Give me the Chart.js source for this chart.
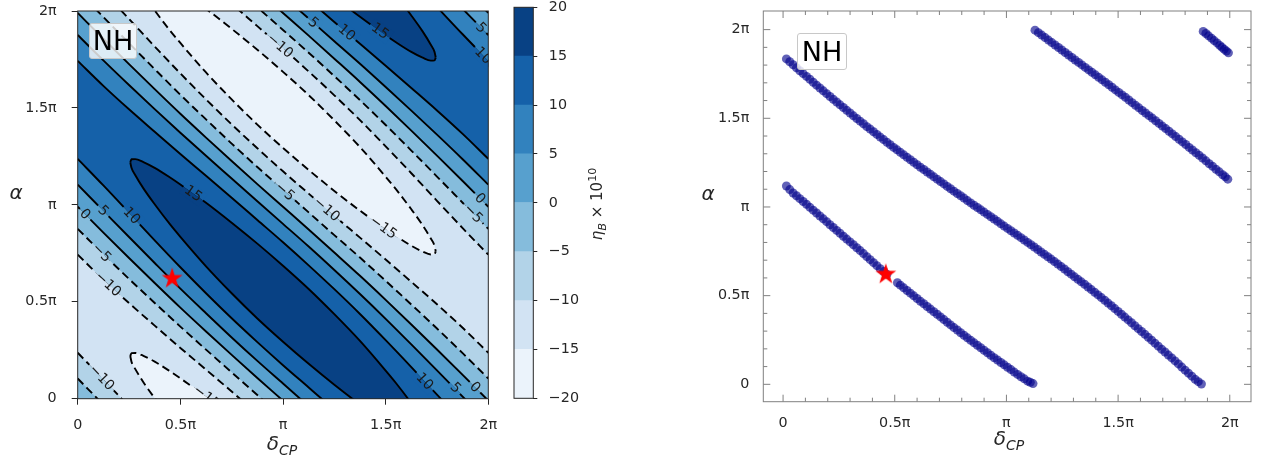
<!DOCTYPE html>
<html>
<head>
<meta charset="utf-8">
<title>eta_B NH</title>
<script src="https://cdn.jsdelivr.net/npm/chart.js@4.4.1/dist/chart.umd.min.js"></script>
<style>
  html, body { margin: 0; padding: 0; background: #fff; }
  #wrap { position: relative; width: 1262px; height: 458px; overflow: hidden; font-family: "DejaVu Sans", sans-serif; color: #262626; }
  #wrap canvas { position: absolute; top: 0; }
  .txt { position: absolute; transform: translate(-50%, -50%); white-space: nowrap; line-height: 1; }
  .axt { font-size: 20px; font-style: italic; }
  .axt sub { font-size: 14px; vertical-align: -5px; }
  .cbt { font-size: 15px; transform: translate(-50%, -50%) rotate(-90deg); }
  .cbt sub { font-size: 11px; font-style: italic; vertical-align: -4px; }
  .cbt sup { font-size: 11px; vertical-align: 6px; }
  .nh { position: absolute; box-sizing: border-box; background: rgba(255, 255, 255, 0.8); border: 1px solid #c8c8c8; border-radius: 3px; font-size: 27px; color: #000; text-align: center; }
</style>
</head>
<body>
<div id="wrap">
  <canvas id="contourChart" width="500" height="458" style="left:0"></canvas>
  <canvas id="colorbarChart" width="170" height="458" style="left:480px"></canvas>
  <canvas id="scanChart" width="612" height="458" style="left:650px"></canvas>
  <div class="txt axt" style="left:282px;top:445px">δ<sub>CP</sub></div>
  <div class="txt axt" style="left:1009px;top:440px">δ<sub>CP</sub></div>
  <div class="txt axt" style="left:16px;top:192px">α</div>
  <div class="txt axt" style="left:708px;top:193px">α</div>
  <div class="txt cbt" style="left:597px;top:204px"><i>η</i><sub>B</sub> × 10<sup>10</sup></div>
  <div class="nh" style="left:89px;top:23px;width:48px;height:36px;line-height:34px">NH</div>
  <div class="nh" style="left:797px;top:33px;width:50px;height:37px;line-height:35px">NH</div>
</div>
<script>
'use strict';

// all angles in units of pi
var piTicks = [0, 0.5, 1, 1.5, 2];
var piTickLabels = ['0', '0.5π', 'π', '1.5π', '2π'];
var minorTicks = [0.1, 0.2, 0.3, 0.4, 0.6, 0.7, 0.8, 0.9, 1.1, 1.2, 1.3, 1.4, 1.6, 1.7, 1.8, 1.9];

// eta_B x 1e10 contour levels and their fill colours (Blues)
var levels = [-20, -15, -10, -5, 0, 5, 10, 15, 20];
var bandColors = ['#ebf3fb', '#d2e3f3', '#b2d3e8', '#85bcdc', '#57a0ce', '#3282be', '#1561a9', '#084184'];

// delta_CP columns where the contour crossings were read
var dcpCols = [0, 0.125, 0.25, 0.375, 0.5, 0.625, 0.75, 0.875, 1, 1.125, 1.25, 1.375, 1.5, 1.625, 1.75, 1.875, 2];
// alpha of the lower / upper edge of {eta > level}
var lvlM10Lo = [0.743, 0.614, 0.493, 0.377, 0.262, 0.150, 0.037, -0.078, -0.193, -0.312, -0.435, -0.563, -0.698, -0.837, -0.979, -1.120, -1.257];
var lvlM10Hi = [2.237, 2.100, 1.959, 1.817, 1.678, 1.544, 1.415, 1.292, 1.173, 1.058, 0.943, 0.831, 0.718, 0.603, 0.487, 0.366, 0.237];
var lvlM5Lo = [0.876, 0.745, 0.618, 0.494, 0.372, 0.253, 0.136, 0.019, -0.098, -0.215, -0.336, -0.460, -0.588, -0.720, -0.854, -0.989, -1.124];
var lvlM5Hi = [2.104, 1.969, 1.834, 1.700, 1.568, 1.441, 1.316, 1.195, 1.078, 0.961, 0.844, 0.728, 0.608, 0.486, 0.362, 0.235, 0.104];
var lvl0Lo = [0.990, 0.857, 0.726, 0.597, 0.470, 0.347, 0.226, 0.107, -0.010, -0.127, -0.246, -0.366, -0.490, -0.617, -0.746, -0.877, -1.010];
var lvl0Hi = [1.990, 1.857, 1.726, 1.597, 1.470, 1.347, 1.226, 1.107, 0.990, 0.873, 0.754, 0.634, 0.510, 0.383, 0.254, 0.123, -0.010];
var lvl5Lo = [1.104, 0.969, 0.834, 0.700, 0.568, 0.441, 0.316, 0.195, 0.078, -0.039, -0.156, -0.272, -0.392, -0.514, -0.638, -0.765, -0.896];
var lvl5Hi = [1.876, 1.745, 1.618, 1.494, 1.372, 1.253, 1.136, 1.019, 0.902, 0.785, 0.664, 0.540, 0.412, 0.280, 0.146, 0.011, -0.124];
var lvl10Lo = [1.237, 1.100, 0.959, 0.817, 0.678, 0.544, 0.415, 0.292, 0.173, 0.058, -0.057, -0.169, -0.282, -0.397, -0.513, -0.634, -0.763];
var lvl10Hi = [1.743, 1.614, 1.493, 1.377, 1.262, 1.150, 1.037, 0.922, 0.807, 0.688, 0.565, 0.437, 0.302, 0.163, 0.021, -0.120, -0.257];

// the closed islands eta > 15 (ridge) and eta < -15 (valley)
var islandCols = [0.256, 0.262, 0.28, 0.32, 0.375, 0.45, 0.5, 0.625, 0.75, 0.875, 1, 1.125, 1.25, 1.375, 1.5, 1.55, 1.625, 1.68, 1.72, 1.738, 1.744];
var ridge15Lo = [1.220, 1.191, 1.154, 1.085, 1.003, 0.899, 0.835, 0.683, 0.544, 0.414, 0.294, 0.180, 0.072, -0.030, -0.125, -0.161, -0.211, -0.241, -0.256, -0.255, -0.240];
var ridge15Hi = [1.220, 1.235, 1.236, 1.221, 1.191, 1.141, 1.105, 1.011, 0.908, 0.800, 0.686, 0.566, 0.436, 0.298, 0.145, 0.081, -0.023, -0.105, -0.174, -0.211, -0.240];
var valley15Lo = [2.220, 2.191, 2.154, 2.085, 2.003, 1.899, 1.835, 1.683, 1.544, 1.414, 1.294, 1.180, 1.072, 0.970, 0.875, 0.839, 0.789, 0.759, 0.744, 0.745, 0.760];
var valley15Hi = [2.220, 2.235, 2.236, 2.221, 2.191, 2.141, 2.105, 2.011, 1.908, 1.800, 1.686, 1.566, 1.436, 1.298, 1.145, 1.081, 0.977, 0.895, 0.826, 0.789, 0.760];

// inline contour labels
var labelDcp = [1.148, 1.310, 1.473, 0.986, 1.965, 1.975, 0.036, 0.125, 0.263, 0.117, 0.563, 1.010, 1.213, 1.489, 1.960, 1.927, 0.149, 0.117, 0.628, 1.690, 1.840, 1.935];
var labelAlpha = [1.940, 1.889, 1.896, 1.820, 1.914, 1.770, 0.952, 0.969, 0.944, 0.753, 1.058, 1.069, 0.977, 0.883, 1.033, 0.955, 0.591, 0.109, 0.009, 0.089, 0.056, 0.059];
var labelLevel = [5, 10, 15, -10, 5, 10, 0, 5, 10, -5, 15, -5, -10, -15, 0, -5, -10, -10, -15, 10, 5, 0];
var labelHiUp = [1, 1, 1, 1, 0, 0, 1, 1, 1, 1, 0, 0, 0, 0, 1, 1, 1, 0, 1, 0, 0, 0];
var labelSlope = [-0.94, -0.9, -0.76, -0.92, -1.08, -1.1, -1.06, -1.08, -1.13, -1.05, -0.75, -0.94, -0.92, -0.76, -1.06, -1.08, -0.97, -1.1, -0.82, -1.13, -1.08, -1.06];

// scan points giving the observed eta_B (right panel)
var scanA_dcp = [0.015, 0.030, 0.045, 0.060, 0.075, 0.090, 0.105, 0.120, 0.135, 0.150, 0.165, 0.180, 0.195, 0.210, 0.225, 0.240, 0.255, 0.270, 0.285, 0.300, 0.315, 0.330, 0.345, 0.360, 0.375, 0.390, 0.405, 0.420, 0.435, 0.450, 0.465,
  0.512, 0.525, 0.540, 0.555, 0.570, 0.585, 0.600, 0.615, 0.630, 0.645, 0.660, 0.675, 0.690, 0.705, 0.720, 0.735, 0.750, 0.765, 0.780, 0.795, 0.810, 0.825, 0.840, 0.855, 0.870, 0.885, 0.900, 0.915, 0.930, 0.945, 0.960, 0.975, 0.990, 1.005, 1.020, 1.035, 1.050, 1.065, 1.080, 1.095, 1.107, 1.119];
var scanA_alpha = [1.118, 1.098, 1.079, 1.063, 1.047, 1.031, 1.015, 0.998, 0.982, 0.966, 0.949, 0.933, 0.917, 0.900, 0.884, 0.868, 0.852, 0.835, 0.819, 0.803, 0.787, 0.770, 0.754, 0.737, 0.720, 0.703, 0.686, 0.669, 0.652, 0.636, 0.620,
  0.573, 0.559, 0.544, 0.529, 0.514, 0.499, 0.484, 0.468, 0.454, 0.439, 0.424, 0.409, 0.395, 0.380, 0.365, 0.350, 0.335, 0.320, 0.306, 0.291, 0.277, 0.262, 0.248, 0.234, 0.220, 0.206, 0.192, 0.178, 0.164, 0.150, 0.137, 0.123, 0.110, 0.096, 0.083, 0.069, 0.056, 0.043, 0.031, 0.018, 0.011, 0.004];
var scanB_dcp = [0.015, 0.030, 0.045, 0.060, 0.075, 0.090, 0.105, 0.120, 0.135, 0.150, 0.165, 0.180, 0.195, 0.210, 0.225, 0.240, 0.255, 0.270, 0.285, 0.300, 0.315, 0.330, 0.345, 0.360, 0.375, 0.390, 0.405, 0.420, 0.435, 0.450, 0.465, 0.480, 0.495, 0.510, 0.525, 0.540, 0.555, 0.570, 0.585, 0.600, 0.615, 0.630,
  0.645, 0.660, 0.675, 0.690, 0.705, 0.720, 0.735, 0.750, 0.765, 0.780, 0.795, 0.810, 0.825, 0.840, 0.855, 0.870, 0.885, 0.900, 0.915, 0.930, 0.945, 0.960, 0.975, 0.990, 1.005, 1.020, 1.035, 1.050, 1.065, 1.080, 1.095, 1.110, 1.125, 1.140, 1.155, 1.170, 1.185, 1.200, 1.215, 1.230,
  1.245, 1.260, 1.275, 1.290, 1.305, 1.320, 1.335, 1.350, 1.365, 1.380, 1.395, 1.410, 1.425, 1.440, 1.455, 1.470, 1.485, 1.500, 1.515, 1.530, 1.545, 1.560, 1.575, 1.590, 1.605, 1.620, 1.635, 1.650, 1.665, 1.680, 1.695, 1.710, 1.725, 1.740, 1.755, 1.770, 1.785, 1.800, 1.815, 1.830, 1.845, 1.859, 1.873];
var scanB_alpha = [1.835, 1.819, 1.802, 1.785, 1.768, 1.752, 1.736, 1.720, 1.703, 1.687, 1.671, 1.655, 1.639, 1.623, 1.607, 1.592, 1.576, 1.561, 1.545, 1.530, 1.514, 1.499, 1.484, 1.469, 1.453, 1.439, 1.424, 1.409, 1.394, 1.380, 1.365, 1.351, 1.336, 1.322, 1.308, 1.294, 1.280, 1.266, 1.252, 1.238, 1.224, 1.211,
  1.197, 1.184, 1.170, 1.157, 1.143, 1.130, 1.116, 1.103, 1.089, 1.076, 1.063, 1.050, 1.036, 1.023, 1.010, 0.997, 0.984, 0.971, 0.958, 0.945, 0.932, 0.919, 0.905, 0.892, 0.879, 0.866, 0.853, 0.840, 0.827, 0.814, 0.800, 0.787, 0.774, 0.760, 0.746, 0.733, 0.719, 0.706, 0.692, 0.678,
  0.664, 0.650, 0.635, 0.621, 0.606, 0.592, 0.578, 0.564, 0.549, 0.534, 0.519, 0.504, 0.489, 0.474, 0.458, 0.443, 0.427, 0.411, 0.395, 0.379, 0.363, 0.347, 0.330, 0.314, 0.298, 0.282, 0.265, 0.249, 0.232, 0.215, 0.198, 0.182, 0.165, 0.149, 0.132, 0.115, 0.097, 0.080, 0.063, 0.046, 0.028, 0.015, 0.002];
var scanC_dcp = [1.128, 1.143, 1.158, 1.173, 1.188, 1.203, 1.218, 1.233, 1.248, 1.263, 1.278, 1.293, 1.308, 1.323, 1.338, 1.353, 1.368, 1.383, 1.398, 1.413, 1.428, 1.443, 1.458, 1.473, 1.488, 1.503, 1.518, 1.533, 1.548, 1.563,
  1.578, 1.593, 1.608, 1.623, 1.638, 1.653, 1.668, 1.683, 1.698, 1.713, 1.728, 1.743, 1.758, 1.773, 1.788, 1.803, 1.818, 1.833, 1.848, 1.863, 1.878, 1.893, 1.908, 1.923, 1.938, 1.953, 1.968, 1.980, 1.991];
var scanC_alpha = [1.997, 1.983, 1.969, 1.955, 1.941, 1.927, 1.913, 1.899, 1.885, 1.871, 1.857, 1.843, 1.829, 1.815, 1.801, 1.787, 1.773, 1.759, 1.745, 1.731, 1.717, 1.703, 1.689, 1.675, 1.660, 1.646, 1.632, 1.618, 1.603, 1.588,
  1.573, 1.559, 1.544, 1.530, 1.515, 1.501, 1.486, 1.471, 1.456, 1.442, 1.427, 1.412, 1.397, 1.382, 1.367, 1.352, 1.336, 1.321, 1.306, 1.291, 1.276, 1.260, 1.244, 1.229, 1.213, 1.198, 1.182, 1.170, 1.157];
var scanD_dcp = [1.881, 1.893, 1.905, 1.918, 1.930, 1.943, 1.955, 1.965, 1.975, 1.985, 1.994];
var scanD_alpha = [1.990, 1.978, 1.965, 1.952, 1.938, 1.925, 1.911, 1.900, 1.889, 1.879, 1.869];

// best fit point
var bestDcp = 0.46;
var bestAlpha = 0.62;

Chart.defaults.font.family = '"DejaVu Sans", sans-serif';
Chart.defaults.color = '#262626';

var toPoints = function (xs, ys, shift) {
  return xs.map(function (x, i) { return {x: x, y: ys[i] + shift}; });
};

var piLabel = function (v) {
  var i = piTicks.indexOf(v);
  return i >= 0 ? piTickLabels[i] : '';
};

var setPiTicks = function (scale) {
  scale.ticks = piTicks.map(function (v) { return {value: v}; });
};

var minusFmt = function (v) {
  return v < 0 ? '\u2212' + Math.abs(v) : String(v);
};

var makeStar = function (r) {
  var c = document.createElement('canvas');
  var size = Math.ceil(r * 2) + 2;
  c.width = size;
  c.height = size;
  var g = c.getContext('2d');
  g.beginPath();
  for (var k = 0; k < 10; k++) {
    var rr = k % 2 ? r * 0.382 : r;
    var ang = -Math.PI / 2 + k * Math.PI / 5;
    g.lineTo(size / 2 + rr * Math.cos(ang), size / 2 + rr * Math.sin(ang));
  }
  g.closePath();
  g.fillStyle = '#ff0000';
  g.fill();
  return c;
};
var starImg = makeStar(11);

// box around the plot area
var framePlugin = {
  id: 'frame',
  afterDatasetsDraw: function (chart, args, opts) {
    var a = chart.chartArea, ctx = chart.ctx;
    ctx.save();
    ctx.strokeStyle = opts.color;
    ctx.lineWidth = opts.width;
    ctx.strokeRect(a.left, a.top, a.right - a.left, a.bottom - a.top);
    ctx.restore();
  }
};

// lowest filled band under everything
var areaPlugin = {
  id: 'area',
  beforeDatasetsDraw: function (chart, args, opts) {
    var a = chart.chartArea, ctx = chart.ctx;
    ctx.save();
    ctx.fillStyle = opts.color;
    ctx.fillRect(a.left, a.top, a.right - a.left, a.bottom - a.top);
    ctx.restore();
  }
};

// clabel-like inline labels
var contourLabelPlugin = {
  id: 'clabels',
  afterDatasetsDraw: function (chart) {
    var a = chart.chartArea, ctx = chart.ctx;
    var xs = chart.scales.x, ys = chart.scales.y;
    ctx.save();
    ctx.beginPath();
    ctx.rect(a.left, a.top, a.right - a.left, a.bottom - a.top);
    ctx.clip();
    ctx.font = '14px "DejaVu Sans"';
    ctx.textAlign = 'center';
    ctx.textBaseline = 'middle';
    labelDcp.forEach(function (d, i) {
      var px = xs.getPixelForValue(d), py = ys.getPixelForValue(labelAlpha[i]);
      var dx = xs.getPixelForValue(d + 0.1) - px;
      var dy = ys.getPixelForValue(labelAlpha[i] + 0.1 * labelSlope[i]) - py;
      var band = (labelLevel[i] + 20) / 5;
      var hi = bandColors[band], lo = bandColors[band - 1];
      var txt = minusFmt(labelLevel[i]);
      var w = ctx.measureText(txt).width + 6;
      ctx.save();
      ctx.translate(px, py);
      ctx.rotate(Math.atan2(dy, dx));
      ctx.fillStyle = labelHiUp[i] ? hi : lo;
      ctx.fillRect(-w / 2, -7.5, w, 7.5);
      ctx.fillStyle = labelHiUp[i] ? lo : hi;
      ctx.fillRect(-w / 2, 0, w, 7.5);
      ctx.fillStyle = '#1a1a1a';
      ctx.fillText(txt, 0, 0.5);
      ctx.restore();
    });
    ctx.restore();
  }
};

// inward major / minor ticks on all four sides
var inTicksPlugin = {
  id: 'inticks',
  afterDraw: function (chart, args, opts) {
    var a = chart.chartArea, ctx = chart.ctx;
    var xs = chart.scales.x, ys = chart.scales.y;
    ctx.save();
    ctx.strokeStyle = opts.color;
    ctx.lineWidth = 1;
    ctx.beginPath();
    [[piTicks, 7], [minorTicks, 4]].forEach(function (set) {
      set[0].forEach(function (v) {
        var px = xs.getPixelForValue(v), py = ys.getPixelForValue(v);
        if (px > a.left && px < a.right) {
          ctx.moveTo(px, a.bottom); ctx.lineTo(px, a.bottom - set[1]);
          ctx.moveTo(px, a.top); ctx.lineTo(px, a.top + set[1]);
        }
        if (py > a.top && py < a.bottom) {
          ctx.moveTo(a.left, py); ctx.lineTo(a.left + set[1], py);
          ctx.moveTo(a.right, py); ctx.lineTo(a.right - set[1], py);
        }
      });
    });
    ctx.stroke();
    ctx.restore();
  }
};

/* ---------- left: filled contours ---------- */
var layers = [
  {lo: valley15Lo, hi: valley15Hi, cols: islandCols, shifts: [0, -2], band: 0, dashed: true},
  {lo: lvlM10Lo, hi: lvlM10Hi, cols: dcpCols, shifts: [-2, 0, 2], band: 2, dashed: true},
  {lo: lvlM5Lo, hi: lvlM5Hi, cols: dcpCols, shifts: [-2, 0, 2], band: 3, dashed: true},
  {lo: lvl0Lo, hi: lvl0Hi, cols: dcpCols, shifts: [-2, 0, 2], band: 4, dashed: false},
  {lo: lvl5Lo, hi: lvl5Hi, cols: dcpCols, shifts: [-2, 0, 2], band: 5, dashed: false},
  {lo: lvl10Lo, hi: lvl10Hi, cols: dcpCols, shifts: [-2, 0, 2], band: 6, dashed: false},
  {lo: ridge15Lo, hi: ridge15Hi, cols: islandCols, shifts: [0, 2], band: 7, dashed: false}
];

var contourSets = [];
layers.forEach(function (layer, li) {
  layer.shifts.forEach(function (s, si) {
    var ord = 1000 - li * 10 - si;
    var dash = layer.dashed ? [8, 4.5] : [];
    contourSets.push({data: toPoints(layer.cols, layer.lo, s), borderColor: '#000', borderWidth: 1.9, borderDash: dash, fill: false, order: ord});
    contourSets.push({data: toPoints(layer.cols, layer.hi, s), borderColor: '#000', borderWidth: 1.9, borderDash: dash, fill: '-1', backgroundColor: bandColors[layer.band], order: ord});
  });
});
contourSets.push({data: [{x: bestDcp, y: bestAlpha}], showLine: false, pointStyle: starImg, pointRadius: 10, order: 0});

new Chart(document.getElementById('contourChart').getContext('2d'), {
  type: 'line',
  data: {datasets: contourSets},
  options: {
    responsive: false,
    animation: false,
    devicePixelRatio: 1,
    events: [],
    layout: {padding: {left: 0, top: 7.5, right: 11.7, bottom: 0}},
    elements: {
      point: {radius: 0},
      line: {cubicInterpolationMode: 'monotone', capBezierPoints: false, borderJoinStyle: 'round'}
    },
    scales: {
      x: {
        type: 'linear', min: 0, max: 2,
        afterBuildTicks: setPiTicks,
        afterFit: function (s) { s.height = 59.3; s.paddingLeft = 0; s.paddingRight = 0; },
        ticks: {callback: piLabel, padding: 12, maxRotation: 0, autoSkip: false, font: {size: 14.3}, color: '#262626'},
        grid: {drawOnChartArea: false, tickLength: 6, color: '#262626'},
        border: {display: false}
      },
      y: {
        type: 'linear', min: 0, max: 2,
        afterBuildTicks: setPiTicks,
        afterFit: function (s) { s.width = 77.7; s.paddingTop = 0; s.paddingBottom = 0; },
        ticks: {callback: piLabel, padding: 15, autoSkip: false, font: {size: 14.3}, color: '#262626'},
        grid: {drawOnChartArea: false, tickLength: 6, color: '#262626'},
        border: {display: false}
      }
    },
    plugins: {
      legend: {display: false},
      tooltip: {enabled: false},
      area: {color: bandColors[1]},
      frame: {color: '#262626', width: 1}
    }
  },
  plugins: [areaPlugin, contourLabelPlugin, framePlugin]
});

/* ---------- colour bar ---------- */
var cbarSets = bandColors.map(function (c, i) {
  return {data: [[levels[i], levels[i + 1]]], backgroundColor: c, borderWidth: 0, grouped: false, barPercentage: 1, categoryPercentage: 1};
});

new Chart(document.getElementById('colorbarChart').getContext('2d'), {
  type: 'bar',
  data: {labels: [''], datasets: cbarSets},
  options: {
    responsive: false,
    animation: false,
    devicePixelRatio: 1,
    events: [],
    layout: {padding: {left: 34, top: 7.3, right: 0, bottom: 59.7}},
    scales: {
      x: {display: false},
      y: {
        position: 'right', min: -20, max: 20,
        afterBuildTicks: function (s) { s.ticks = levels.map(function (v) { return {value: v}; }); },
        afterFit: function (s) { s.width = 116.7; s.paddingTop = 0; s.paddingBottom = 0; },
        ticks: {callback: minusFmt, padding: 11.5, font: {size: 14.3}, color: '#262626'},
        grid: {drawOnChartArea: false, tickLength: 4, color: '#262626'},
        border: {display: false}
      }
    },
    plugins: {
      legend: {display: false},
      tooltip: {enabled: false},
      frame: {color: '#262626', width: 1}
    }
  },
  plugins: [framePlugin]
});

/* ---------- right: scan points ---------- */
var scanStyle = function (xs, ys) {
  return {data: toPoints(xs, ys, 0), pointRadius: 4.5, pointBackgroundColor: 'rgba(0, 0, 139, 0.62)', pointBorderWidth: 0};
};

new Chart(document.getElementById('scanChart').getContext('2d'), {
  type: 'scatter',
  data: {
    datasets: [
      scanStyle(scanA_dcp, scanA_alpha),
      scanStyle(scanB_dcp, scanB_alpha),
      scanStyle(scanC_dcp, scanC_alpha),
      scanStyle(scanD_dcp, scanD_alpha),
      {data: [{x: bestDcp, y: bestAlpha}], pointStyle: starImg, pointRadius: 10, order: -1}
    ]
  },
  options: {
    responsive: false,
    animation: false,
    devicePixelRatio: 1,
    events: [],
    layout: {padding: {left: 0, top: 4.7, right: 5.3, bottom: 0}},
    scales: {
      x: {
        type: 'linear', min: -0.0885, max: 2.095,
        afterBuildTicks: setPiTicks,
        afterFit: function (s) { s.height = 56.3; s.paddingLeft = 0; s.paddingRight = 0; },
        ticks: {callback: piLabel, padding: 13, maxRotation: 0, autoSkip: false, font: {size: 14.3}, color: '#262626'},
        grid: {display: false, drawTicks: false},
        border: {display: false}
      },
      y: {
        type: 'linear', min: -0.098, max: 2.105,
        afterBuildTicks: setPiTicks,
        afterFit: function (s) { s.width = 113.3; s.paddingTop = 0; s.paddingBottom = 0; },
        ticks: {callback: piLabel, padding: 14, autoSkip: false, font: {size: 14.3}, color: '#262626'},
        grid: {display: false, drawTicks: false},
        border: {display: false}
      }
    },
    plugins: {
      legend: {display: false},
      tooltip: {enabled: false},
      frame: {color: '#808080', width: 1},
      inticks: {color: '#808080'}
    }
  },
  plugins: [framePlugin, inTicksPlugin]
});
</script>
</body>
</html>
